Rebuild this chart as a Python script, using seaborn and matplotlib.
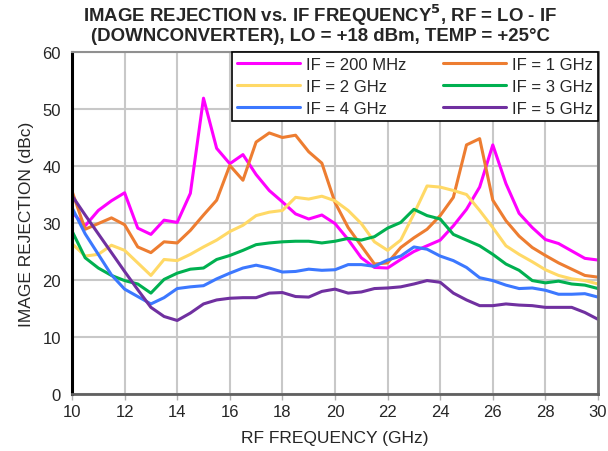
import matplotlib
matplotlib.use("Agg")
import matplotlib.pyplot as plt
import numpy as np
import pandas as pd
import seaborn as sns

freq_ghz = np.arange(10.0, 30.01, 0.5)

if_200mhz = [31.9, 29.5, 32.2, 33.9, 35.3, 29.1, 28.0, 30.5, 30.1, 35.2, 51.9, 43.1, 40.4, 42.0,
             38.5, 35.7, 33.7, 31.6, 30.7, 31.4, 29.9, 27.1, 23.9, 22.2, 22.1, 23.6, 25.0, 26.0,
             27.0, 29.5, 32.4, 36.3, 43.7, 36.9, 31.7, 29.2, 27.1, 26.4, 25.1, 23.8, 23.5]
if_1ghz = [35.6, 28.9, 29.9, 30.9, 29.7, 25.8, 24.8, 26.7, 26.5, 28.7, 31.4, 34.0, 40.1, 37.5,
           44.2, 45.8, 45.0, 45.4, 42.5, 40.5, 33.6, 29.2, 26.0, 22.8, 23.0, 25.7, 27.4, 28.9,
           31.3, 34.5, 43.7, 44.8, 34.0, 30.4, 27.7, 25.7, 24.3, 23.0, 21.9, 20.8, 20.5]
if_2ghz = [26.4, 24.2, 24.5, 26.1, 25.2, 23.0, 20.8, 23.6, 23.4, 24.5, 25.8, 27.0, 28.5, 29.6,
           31.3, 31.9, 32.2, 34.5, 34.2, 34.7, 33.9, 32.2, 29.9, 26.7, 25.2, 27.0, 31.6, 36.5,
           36.3, 35.7, 35.0, 32.2, 29.2, 26.0, 24.5, 23.2, 21.8, 20.8, 20.2, 19.9, 19.3]
if_3ghz = [28.6, 23.9, 22.1, 20.8, 19.9, 19.3, 17.7, 20.1, 21.2, 21.9, 22.1, 23.6, 24.3, 25.2,
           26.2, 26.5, 26.7, 26.8, 26.8, 26.5, 26.8, 27.3, 27.0, 27.6, 29.1, 30.1, 32.4, 31.3,
           30.7, 28.0, 27.0, 26.0, 24.5, 22.8, 21.7, 19.9, 19.5, 19.8, 19.3, 19.1, 18.5]
if_4ghz = [32.7, 28.1, 24.5, 20.9, 18.4, 17.1, 15.8, 16.9, 18.5, 18.8, 19.0, 20.2, 21.2, 22.1,
           22.6, 22.1, 21.4, 21.5, 21.9, 21.7, 21.8, 22.7, 22.7, 22.4, 23.5, 24.2, 25.8, 25.4,
           24.2, 23.4, 22.2, 20.4, 19.9, 19.1, 18.5, 18.6, 18.2, 17.5, 17.5, 17.6, 17.0]
if_5ghz = [34.8, 31.4, 28.1, 24.8, 21.5, 18.3, 15.2, 13.6, 12.9, 14.2, 15.8, 16.5, 16.8, 16.9,
           16.9, 17.7, 17.8, 17.1, 17.0, 18.0, 18.4, 17.7, 17.9, 18.5, 18.6, 18.8, 19.3, 19.9,
           19.6, 17.7, 16.5, 15.5, 15.5, 15.8, 15.6, 15.5, 15.2, 15.2, 15.2, 14.3, 13.1]

series = {
    "IF = 200 MHz": if_200mhz,
    "IF = 1 GHz": if_1ghz,
    "IF = 2 GHz": if_2ghz,
    "IF = 3 GHz": if_3ghz,
    "IF = 4 GHz": if_4ghz,
    "IF = 5 GHz": if_5ghz,
}
colors = ["#ff00ff", "#ed7d31", "#ffd966", "#00b050", "#3c78ff", "#7030a0"]

df = pd.DataFrame(
    [(f, name, v) for name, vals in series.items() for f, v in zip(freq_ghz, vals)],
    columns=["freq", "curve", "rej"],
)

sns.set_theme(style="white")
plt.rcParams["font.family"] = ["Liberation Sans", "DejaVu Sans"]

fig = plt.figure(figsize=(6.08, 4.52), dpi=100)
ax = fig.add_axes([72 / 608, 1 - 395 / 452, 526 / 608, 342 / 452])

sns.lineplot(
    data=df, x="freq", y="rej", hue="curve", hue_order=list(series),
    palette=colors, linewidth=2.2, ax=ax, legend=True,
)

ax.set_xlim(10, 30)
ax.set_ylim(0, 60)
ax.set_xticks(np.arange(10, 31, 2))
ax.set_yticks(np.arange(0, 61, 10))
ax.grid(True, color="#c8c8c8", linewidth=1.5)
ax.set_axisbelow(True)
ax.tick_params(axis="x", direction="out", length=4, color="#b0b0b0", width=1,
               labelsize=12, pad=3, bottom=True)
ax.tick_params(axis="y", length=0, labelsize=12, pad=8)
for side in ["left", "bottom", "right", "top"]:
    ax.spines[side].set_visible(True)
ax.spines["left"].set_color("black")
ax.spines["left"].set_linewidth(2.2)
ax.spines["bottom"].set_color("#606060")
ax.spines["bottom"].set_linewidth(2)
ax.spines["right"].set_color("#707070")
ax.spines["right"].set_linewidth(2)
ax.spines["top"].set_color("#909090")
ax.spines["top"].set_linewidth(1.5)

ax.set_xlabel("RF FREQUENCY (GHz)", fontsize=12.5, labelpad=8)
ax.set_ylabel("IMAGE REJECTION (dBc)", fontsize=12.5, labelpad=6)

# legend filled row by row, like the original
handles, labels = ax.get_legend_handles_labels()
order = [0, 2, 4, 1, 3, 5]
leg = ax.legend(
    [handles[i] for i in order], [labels[i] for i in order],
    loc="upper right", ncol=2, fontsize=12, frameon=True,
    fancybox=False, edgecolor="black", framealpha=1, borderpad=0.3,
    handlelength=3.8, handletextpad=0.35, columnspacing=2.2, labelspacing=0.42,
    borderaxespad=0,
)
leg.get_frame().set_linewidth(1.2)
for line in leg.get_lines():
    line.set_linewidth(2.2)

fig.text(
    0.527, 0.995,
    "IMAGE REJECTION vs. IF FREQUENCY$^{\\mathbf{5}}$, RF = LO - IF\n"
    "(DOWNCONVERTER), LO = +18 dBm, TEMP = +25°C",
    ha="center", va="top", fontsize=13.4, fontweight="bold", linespacing=1.05,
)

fig.savefig("out.png", dpi=100)
